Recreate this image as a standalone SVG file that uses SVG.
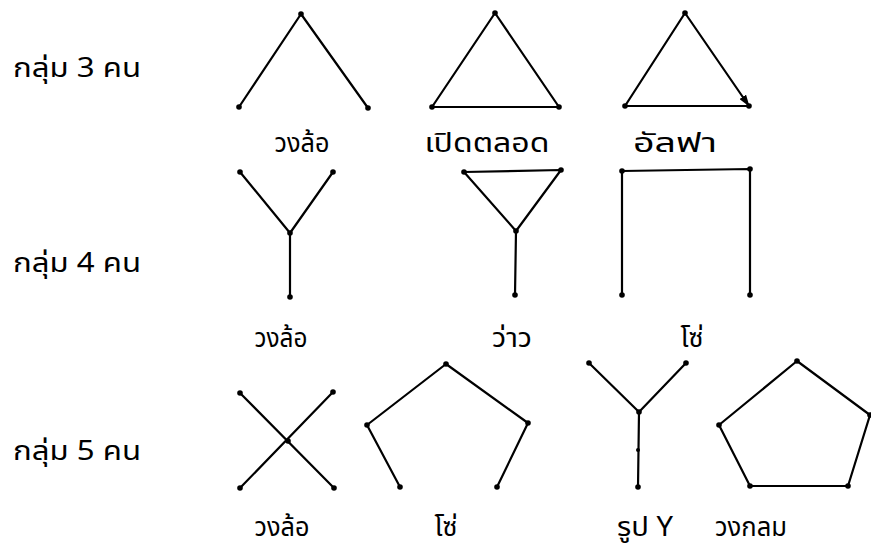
<svg xmlns="http://www.w3.org/2000/svg" width="871" height="547" viewBox="0 0 871 547">
<defs>
<marker id="arr" viewBox="0 0 12 8" refX="11" refY="4" markerWidth="12" markerHeight="8" orient="auto" markerUnits="userSpaceOnUse">
<path d="M0,0 L12,4 L0,8 z" fill="#000"/>
</marker>
</defs>
<style>
.e{stroke:#000;stroke-width:2.2;fill:none;stroke-linecap:round;stroke-linejoin:round}
.d{fill:#000}
.t{font-family:"Noto Sans Thai","Loma","Garuda","Norasi","DejaVu Sans",sans-serif;font-size:27px;fill:#000}
.m{text-anchor:middle}
</style>
<rect width="871" height="547" fill="#fff"/>
<text class="t" x="13" y="77" textLength="128" lengthAdjust="spacingAndGlyphs">กลุ่ม 3 คน</text>
<text class="t" x="13" y="272" textLength="128" lengthAdjust="spacingAndGlyphs">กลุ่ม 4 คน</text>
<text class="t" x="13" y="460" textLength="128" lengthAdjust="spacingAndGlyphs">กลุ่ม 5 คน</text>
<g id="connectors">
<polyline class="e" points="239,107 301,14 368,108"/>
<polygon class="e" points="495,13 432,107 559,107"/>
<polyline class="e" points="685,13 625,106 749,106"/>
<line class="e" x1="685" y1="13" x2="749" y2="106" marker-end="url(#arr)"/>
<polyline class="e" points="240,172 290,233 333,172"/>
<line class="e" x1="290" y1="233" x2="290" y2="297"/>
<polygon class="e" points="464,172 561,170 516,231"/>
<line class="e" x1="516" y1="231" x2="515" y2="295"/>
<polyline class="e" points="622,295 622,171 750,169 750,295"/>
<line class="e" x1="240" y1="393" x2="334" y2="488"/>
<line class="e" x1="333" y1="392" x2="240" y2="488"/>
<polyline class="e" points="400,487 367,425 446,364 528,423 497,487"/>
<polyline class="e" points="589,363 639,412 686,363"/>
<line class="e" x1="639" y1="412" x2="638" y2="487"/>
<polygon class="e" points="797,361 870,415 848,486 750,486 719,425"/>
</g>
<g id="g3-wheel">
<circle class="d" cx="301" cy="14" r="2.8"/><circle class="d" cx="239" cy="107" r="2.8"/><circle class="d" cx="368" cy="108" r="2.8"/>
<text class="t m" x="302" y="152" textLength="55" lengthAdjust="spacingAndGlyphs">วงล้อ</text>
</g>
<g id="g3-open">
<circle class="d" cx="495" cy="13" r="2.8"/><circle class="d" cx="432" cy="107" r="2.8"/><circle class="d" cx="559" cy="107" r="2.8"/>
<text class="t m" x="487" y="152" textLength="125" lengthAdjust="spacingAndGlyphs">เปิดตลอด</text>
</g>
<g id="g3-alpha">
<circle class="d" cx="685" cy="13" r="2.8"/><circle class="d" cx="625" cy="106" r="2.8"/><circle class="d" cx="749" cy="106" r="2.8"/>
<text class="t m" x="675" y="152" textLength="84" lengthAdjust="spacingAndGlyphs">อัลฟา</text>
</g>
<g id="g4-wheel">
<circle class="d" cx="240" cy="172" r="2.8"/><circle class="d" cx="333" cy="172" r="2.8"/><circle class="d" cx="290" cy="233" r="2.8"/><circle class="d" cx="290" cy="297" r="2.8"/>
<text class="t m" x="281" y="347" textLength="53" lengthAdjust="spacingAndGlyphs">วงล้อ</text>
</g>
<g id="g4-kite">
<circle class="d" cx="464" cy="172" r="2.8"/><circle class="d" cx="561" cy="170" r="2.8"/><circle class="d" cx="516" cy="231" r="2.8"/><circle class="d" cx="515" cy="295" r="2.8"/>
<text class="t m" x="512" y="347" textLength="40" lengthAdjust="spacingAndGlyphs">ว่าว</text>
</g>
<g id="g4-chain">
<circle class="d" cx="622" cy="171" r="2.8"/><circle class="d" cx="750" cy="169" r="2.8"/><circle class="d" cx="622" cy="295" r="2.8"/><circle class="d" cx="750" cy="295" r="2.8"/>
<text class="t m" x="692" y="347">โซ่</text>
</g>
<g id="g5-wheel">
<circle class="d" cx="240" cy="393" r="2.8"/><circle class="d" cx="333" cy="392" r="2.8"/><circle class="d" cx="288" cy="441" r="2.8"/><circle class="d" cx="240" cy="488" r="2.8"/><circle class="d" cx="334" cy="488" r="2.8"/>
<text class="t m" x="282" y="536" textLength="55" lengthAdjust="spacingAndGlyphs">วงล้อ</text>
</g>
<g id="g5-chain">
<circle class="d" cx="367" cy="425" r="2.8"/><circle class="d" cx="446" cy="364" r="2.8"/><circle class="d" cx="528" cy="423" r="2.8"/><circle class="d" cx="400" cy="487" r="2.8"/><circle class="d" cx="497" cy="487" r="2.8"/>
<text class="t m" x="446" y="536">โซ่</text>
</g>
<g id="g5-y">
<circle class="d" cx="589" cy="363" r="2.8"/><circle class="d" cx="686" cy="363" r="2.8"/><circle class="d" cx="639" cy="412" r="2.8"/><circle class="d" cx="638" cy="450" r="2"/><circle class="d" cx="638" cy="487" r="2.8"/>
<text class="t m" x="645" y="536" textLength="56" lengthAdjust="spacingAndGlyphs">รูป Y</text>
</g>
<g id="g5-circle">
<circle class="d" cx="797" cy="361" r="2.8"/><circle class="d" cx="870" cy="415" r="2.8"/><circle class="d" cx="848" cy="486" r="2.8"/><circle class="d" cx="750" cy="486" r="2.8"/><circle class="d" cx="719" cy="425" r="2.8"/>
<text class="t m" x="751" y="536" textLength="72" lengthAdjust="spacingAndGlyphs">วงกลม</text>
</g>
</svg>
